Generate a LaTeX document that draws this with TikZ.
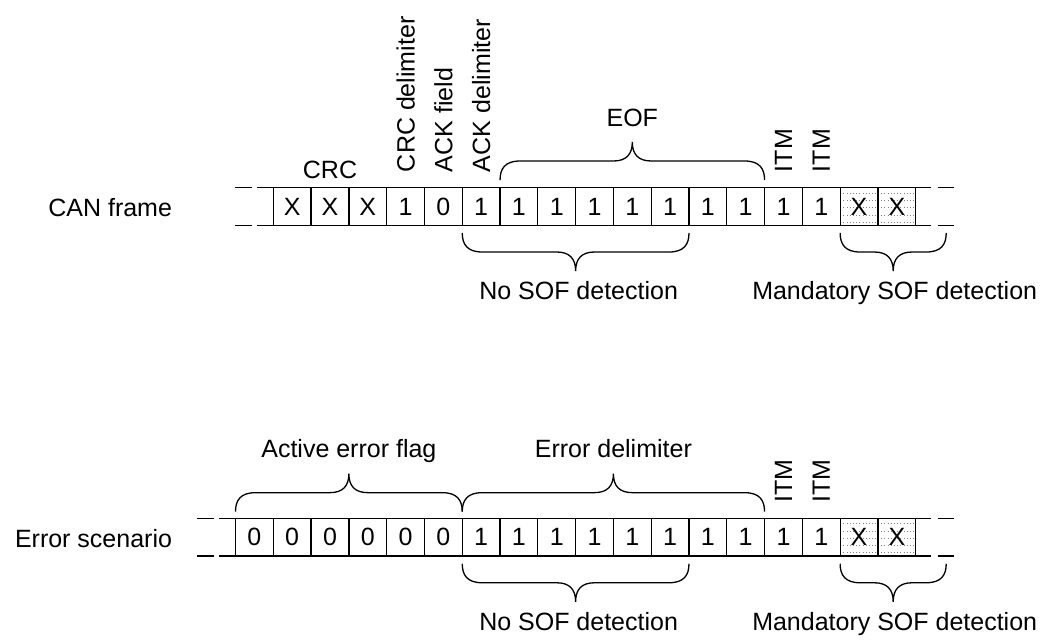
\documentclass[tikz,border=0pt]{standalone}
\usepackage{fontspec}
\setmainfont{Liberation Sans}
\usetikzlibrary{calc}
\newcommand\brc[3]{%
 \draw[brc] let \p1=(#1), \p2=(#2), \p3=($(#1)!0.5!(#2)$), \p4=(0pt,#3*19pt) in
   (\x1,\y1) .. controls (\x1,\y1+0.6*\y4) and (\x1+5pt,\y1+\y4) .. (\x1+20pt,\y1+\y4)
   -- (\x3-19pt,\y1+\y4) .. controls (\x3-6pt,\y1+\y4) and (\x3,\y1+1.35*\y4) .. (\x3,\y1+2*\y4)
   .. controls (\x3,\y1+1.35*\y4) and (\x3+6pt,\y1+\y4) .. (\x3+19pt,\y1+\y4)
   -- (\x2-20pt,\y1+\y4) .. controls (\x2-5pt,\y1+\y4) and (\x2,\y1+0.6*\y4) .. (\x2,\y1);}
\begin{document}
\begin{tikzpicture}[x=1pt,y=-1pt,
  every node/.style={font=\fontsize{25}{30}\selectfont, inner sep=0pt, outer sep=0pt},
  cell/.style={draw, line width=1.3pt, minimum width=37.79pt, minimum height=37.8pt},
  hatch/.style={cell, path picture={
     \foreach \k in {5.5,12.8,20.1,27.4,34.6}
       \draw[gray, line width=0.8pt, dash pattern=on 0.8pt off 2.4pt]
         ([yshift=-\k pt]path picture bounding box.north west) -- ([yshift=-\k pt]path picture bounding box.north east);}},
  rule/.style={line width=1.3pt},
  brc/.style={line width=1.3pt},
  vlab/.style={rotate=90, anchor=west},
  lab/.style={anchor=base}]
\useasboundingbox (0,0) rectangle (1046,640);

% ---------- CAN frame row ----------
\foreach \v [count=\i from 0] in {X,X,X,1,0,1,1,1,1,1,1,1,1,1,1}
  \node[cell] (a\i) at ({273.3+(\i+0.5)*37.79}, 206.4) {\v};
\node[hatch] (a15) at ({273.3+15.5*37.79}, 206.4) {X};
\node[hatch] (a16) at ({273.3+16.5*37.79}, 206.4) {X};

\draw[rule] (a0.north west) -- ++(-16.3,0);
\draw[rule] ([xshift=-21.3pt]a0.north west) -- ++(-17,0);
\draw[rule] (a0.south west) -- ++(-16.3,0);
\draw[rule] ([xshift=-21.3pt]a0.south west) -- ++(-17,0);
\draw[rule] (a16.north east) -- ++(15,0);
\draw[rule] ([xshift=22pt]a16.north east) -- ++(16,0);
\draw[rule] (a16.south east) -- ++(15,0);
\draw[rule] ([xshift=22pt]a16.south east) -- ++(16,0);

\node[anchor=base east] (can) at (172,216) {CAN frame};

\node[lab] (crc) at ([yshift=9.5pt]a1.north) {CRC};
\node[vlab] (crcd) at ([yshift=15.5pt]a3.north) {CRC delimiter};
\node[vlab] (ackf) at ([yshift=15.5pt]a4.north) {ACK field};
\node[vlab] (ackd) at ([yshift=15.5pt]a5.north) {ACK delimiter};
\node[vlab] (itma) at ([yshift=15.5pt]a13.north) {ITM};
\node[vlab] (itmb) at ([yshift=15.5pt]a14.north) {ITM};

\coordinate (eofL) at ([yshift=7.5pt]a6.north west);
\coordinate (eofR) at ([yshift=7.5pt]a12.north east);
\brc{eofL}{eofR}{1}
\path ($(eofL)!0.5!(eofR)$) ++(0,-53.5) node[lab] (eof) {EOF};

\coordinate (nsL) at ([yshift=-7.7pt]a5.south west);
\coordinate (nsR) at ([yshift=-7.7pt]a10.south east);
\brc{nsL}{nsR}{-1}
\path ($(nsL)!0.5!(nsR)$) ++(3,66.3) node[lab] (nsof) {No SOF detection};

\coordinate (msL) at ([yshift=-7.7pt]a15.south west);
\coordinate (msR) at ([xshift=30.5pt,yshift=-7.7pt]a16.south east);
\brc{msL}{msR}{-1}
\path ($(msL)!0.5!(msR)$) ++(1.5,66.3) node[lab] (msof) {Mandatory SOF detection};

% ---------- Error scenario row ----------
\foreach \v [count=\i from 0] in {0,0,0,0,0,0,1,1,1,1,1,1,1,1,1,1}
  \node[cell] (b\i) at ({235.5+(\i+0.5)*37.79}, 537.15) {\v};
\node[hatch] (b16) at ({235.5+16.5*37.79}, 537.15) {X};
\node[hatch] (b17) at ({235.5+17.5*37.79}, 537.15) {X};

\draw[rule] (b0.north west) -- ++(-16.3,0);
\draw[rule] ([xshift=-21.3pt]b0.north west) -- ++(-17,0);
\draw[rule] (b0.south west) -- ++(-16.3,0);
\draw[rule] ([xshift=-21.3pt]b0.south west) -- ++(-17,0);
\draw[rule] (b17.north east) -- ++(15,0);
\draw[rule] ([xshift=22pt]b17.north east) -- ++(16,0);
\draw[rule] (b17.south east) -- ++(15,0);
\draw[rule] ([xshift=22pt]b17.south east) -- ++(16,0);

\node[anchor=base east] (err) at (172,547) {Error scenario};

\node[vlab] (itmc) at ([yshift=15.5pt]b14.north) {ITM};
\node[vlab] (itmd) at ([yshift=15.5pt]b15.north) {ITM};

\coordinate (aefL) at ([yshift=6.6pt]b0.north west);
\coordinate (aefR) at ([yshift=6.6pt]b5.north east);
\brc{aefL}{aefR}{1}
\path ($(aefL)!0.5!(aefR)$) ++(0,-53.7) node[lab] (aef) {Active error flag};

\coordinate (edL) at ([yshift=6.6pt]b6.north west);
\coordinate (edR) at ([yshift=6.6pt]b13.north east);
\brc{edL}{edR}{1}
\path ($(edL)!0.5!(edR)$) ++(0,-53.7) node[lab] (ed) {Error delimiter};

\coordinate (nsL2) at ([yshift=-7.7pt]b6.south west);
\coordinate (nsR2) at ([yshift=-7.7pt]b11.south east);
\brc{nsL2}{nsR2}{-1}
\path ($(nsL2)!0.5!(nsR2)$) ++(3,66.3) node[lab] (nsof2) {No SOF detection};

\coordinate (msL2) at ([yshift=-7.7pt]b16.south west);
\coordinate (msR2) at ([xshift=30.5pt,yshift=-7.7pt]b17.south east);
\brc{msL2}{msR2}{-1}
\path ($(msL2)!0.5!(msR2)$) ++(1.5,66.3) node[lab] (msof2) {Mandatory SOF detection};
\end{tikzpicture}
\end{document}
